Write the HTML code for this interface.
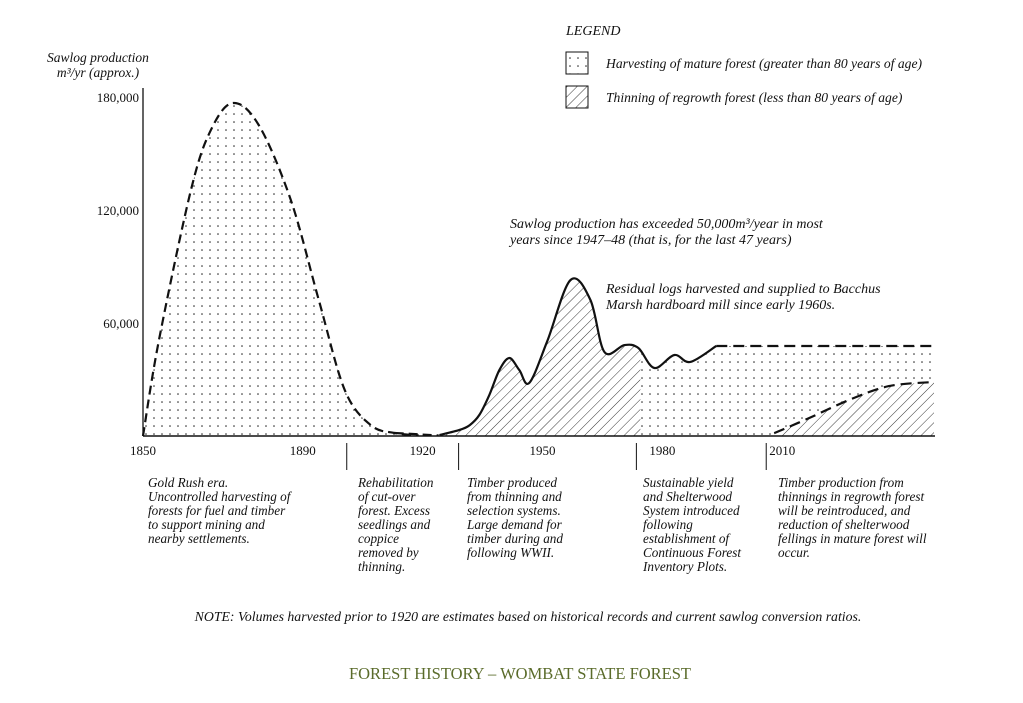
<!DOCTYPE html>
<html><head><meta charset="utf-8"><style>
body{margin:0;background:#fff;}
svg text{font-family:"Liberation Serif",serif;fill:#111;}
.it{font-style:italic;}
</style></head><body>
<svg width="1023" height="698" viewBox="0 0 1023 698">
<defs>
<pattern id="dots" width="8" height="8" patternUnits="userSpaceOnUse"><circle cx="2" cy="2" r="0.8" fill="#222"/></pattern>
<pattern id="hatch" width="7" height="7" patternUnits="userSpaceOnUse" patternTransform="rotate(45)"><line x1="0" y1="0" x2="0" y2="7" stroke="#222" stroke-width="0.9"/></pattern>
</defs>
<g id="plot"></g>
<text x="566" y="35" font-size="14" class="it">LEGEND</text>
<rect x="566" y="52" width="22" height="22" fill="url(#dots)" stroke="#111"/>
<text x="606" y="68" font-size="13.6" class="it">Harvesting of mature forest (greater than 80 years of age)</text>
<rect x="566" y="86" width="22" height="22" fill="url(#hatch)" stroke="#111"/>
<text x="606" y="102" font-size="13.6" class="it">Thinning of regrowth forest (less than 80 years of age)</text>
<g font-size="13.5" class="it" text-anchor="middle">
<text x="98" y="62" class="it">Sawlog production</text><text x="98" y="77" class="it">m³/yr (approx.)</text></g>
<g font-size="14">
<text x="510" y="228" class="it">Sawlog production has exceeded 50,000m³/year in most</text>
<text x="510" y="244" class="it">years since 1947–48 (that is, for the last 47 years)</text>
<text x="606" y="293" class="it">Residual logs harvested and supplied to Bacchus</text>
<text x="606" y="309" class="it">Marsh hardboard mill since early 1960s.</text></g>
<g font-size="13.2">
<text x="148" y="487" class="it">Gold Rush era.</text>
<text x="148" y="501" class="it">Uncontrolled harvesting of</text>
<text x="148" y="515" class="it">forests for fuel and timber</text>
<text x="148" y="529" class="it">to support mining and</text>
<text x="148" y="543" class="it">nearby settlements.</text>
<text x="358" y="487" class="it">Rehabilitation</text><text x="358" y="501" class="it">of cut-over</text><text x="358" y="515" class="it">forest. Excess</text><text x="358" y="529" class="it">seedlings and</text><text x="358" y="543" class="it">coppice</text><text x="358" y="557" class="it">removed by</text><text x="358" y="571" class="it">thinning.</text>
<text x="467" y="487" class="it">Timber produced</text><text x="467" y="501" class="it">from thinning and</text><text x="467" y="515" class="it">selection systems.</text><text x="467" y="529" class="it">Large demand for</text><text x="467" y="543" class="it">timber during and</text><text x="467" y="557" class="it">following WWII.</text>
<text x="643" y="487" class="it">Sustainable yield</text><text x="643" y="501" class="it">and Shelterwood</text><text x="643" y="515" class="it">System introduced</text><text x="643" y="529" class="it">following</text><text x="643" y="543" class="it">establishment of</text><text x="643" y="557" class="it">Continuous Forest</text><text x="643" y="571" class="it">Inventory Plots.</text>
<text x="778" y="487" class="it">Timber production from</text><text x="778" y="501" class="it">thinnings in regrowth forest</text><text x="778" y="515" class="it">will be reintroduced, and</text><text x="778" y="529" class="it">reduction of shelterwood</text><text x="778" y="543" class="it">fellings in mature forest will</text><text x="778" y="557" class="it">occur.</text></g>
<text x="528" y="621" font-size="13.8" class="it" text-anchor="middle">NOTE: Volumes harvested prior to 1920 are estimates based on historical records and current sawlog conversion ratios.</text>
<text x="520" y="679" font-size="16.5" text-anchor="middle" style="fill:#5a6b2a">FOREST HISTORY – WOMBAT STATE FOREST</text>
</svg>
<script>
const yearTicks=[1850,1890,1920,1950,1980,2010];
const valueTicks=[60000,120000,180000];
const valueTickLabels=["60,000","120,000","180,000"];
const separatorYears=[1901,1929,1973.5,2006];
const goldYears=[1850,1854,1862,1867,1872.5,1879,1887,1894,1900.5,1907,1913,1919,1924,1930];
const goldValues=[0,51000,130600,162500,176800,165000,125300,72200,24400,5800,1600,300,0,0];
const thinYears=[1920,1924.2,1929.2,1931.8,1934.2,1936.7,1939.2,1941.7,1944.2,1946.7,1951.2,1957,1962,1965.5,1970.5,1974,1978,1983,1987,1993.5];
const thinValues=[0,500,3200,5800,11200,21800,35000,41400,35000,28200,50400,82800,72200,44600,48300,46700,36100,43000,39300,47800];
const flatYears=[1993.5,2048];
const flatValues=[47800,47800];
const futureYears=[2008,2016.7,2026.7,2036.7,2048];
const futureValues=[1500,9500,19100,26500,28700];
const hatchSplitYear=1974.5;
const NS='http://www.w3.org/2000/svg';
const X=y=>143+(y-1850)*3.995;
const Y=v=>436-v*113/60000;
const g=document.getElementById('plot');
function mk(t,a){const e=document.createElementNS(NS,t);for(const k in a)e.setAttribute(k,a[k]);g.appendChild(e);return e;}
function pts(ys,vs){return ys.map((y,i)=>[X(y),Y(vs[i])]);}
function smooth(p){let d='M'+p[0][0]+','+p[0][1];for(let i=0;i<p.length-1;i++){const p0=p[i-1]||p[i],p1=p[i],p2=p[i+1],p3=p[i+2]||p2;d+=' C'+(p1[0]+(p2[0]-p0[0])/6)+','+(p1[1]+(p2[1]-p0[1])/6)+' '+(p2[0]-(p3[0]-p1[0])/6)+','+(p2[1]-(p3[1]-p1[1])/6)+' '+p2[0]+','+p2[1];}return d;}
const base=Y(0);
const gp=pts(goldYears,goldValues);
let e=mk('path',{d:smooth(gp)+' L'+gp[gp.length-1][0]+','+base+' L'+gp[0][0]+','+base+'Z',fill:'url(#dots)'});


const tp=pts(thinYears,thinValues);
const clipR=mk('clipPath',{id:'leftc'});
const cr=document.createElementNS(NS,'rect');cr.setAttribute('x',0);cr.setAttribute('y',0);cr.setAttribute('width',X(hatchSplitYear));cr.setAttribute('height',698);clipR.appendChild(cr);
const clipL=mk('clipPath',{id:'rightc'});
const cr2=document.createElementNS(NS,'rect');cr2.setAttribute('x',X(hatchSplitYear));cr2.setAttribute('y',0);cr2.setAttribute('width',1023);cr2.setAttribute('height',698);clipL.appendChild(cr2);
const fullD=smooth(tp)+' L'+X(flatYears[1])+','+Y(flatValues[1])+' L'+X(flatYears[1])+','+base+' L'+tp[0][0]+','+base+'Z';
e=mk('path',{d:fullD,fill:'url(#hatch)','clip-path':'url(#leftc)'});


e=mk('path',{d:fullD,fill:'url(#dots)','clip-path':'url(#rightc)'});


const fp=pts(futureYears,futureValues);
e=mk('path',{d:smooth(fp)+' L'+fp[fp.length-1][0]+','+base+' L'+fp[0][0]+','+base+'Z',fill:'#fff'});


e=mk('path',{d:smooth(fp)+' L'+fp[fp.length-1][0]+','+base+' L'+fp[0][0]+','+base+'Z',fill:'url(#hatch)'});


e=mk('path',{d:smooth(gp.slice(0,12)),fill:'none',stroke:'#111','stroke-width':2.2,'stroke-dasharray':'9,5'});


e=mk('path',{d:'M'+X(1913)+','+Y(1600)+' L'+X(1924)+','+Y(300),fill:'none',stroke:'#111','stroke-width':2.2,'stroke-dasharray':'9,5'});


e=mk('path',{d:smooth(tp.slice(1)),fill:'none',stroke:'#111','stroke-width':2.2});


const fl=pts(flatYears,flatValues);
e=mk('path',{d:'M'+fl[0][0]+','+fl[0][1]+' L'+fl[1][0]+','+fl[1][1],fill:'none',stroke:'#111','stroke-width':2.2,'stroke-dasharray':'11,6'});


e=mk('path',{d:smooth(fp),fill:'none',stroke:'#111','stroke-width':2.2,'stroke-dasharray':'11,6'});


e=mk('line',{x1:143,y1:88,x2:143,y2:base,stroke:'#111','stroke-width':1.3});


e=mk('line',{x1:143,y1:base,x2:935,y2:base,stroke:'#111','stroke-width':1.5});


valueTicks.forEach((v,i)=>{const t=mk('text',{x:139,y:Y(v)+5,'font-size':13,'text-anchor':'end'});t.textContent=valueTickLabels[i];

});
yearTicks.forEach(yr=>{const t=mk('text',{x:X(yr),y:455,'font-size':13,'text-anchor':'middle'});t.textContent=yr;

});
separatorYears.forEach(yr=>{const l=mk('line',{x1:X(yr),y1:443,x2:X(yr),y2:470,stroke:'#111','stroke-width':1});

});
</script>
</body></html>
